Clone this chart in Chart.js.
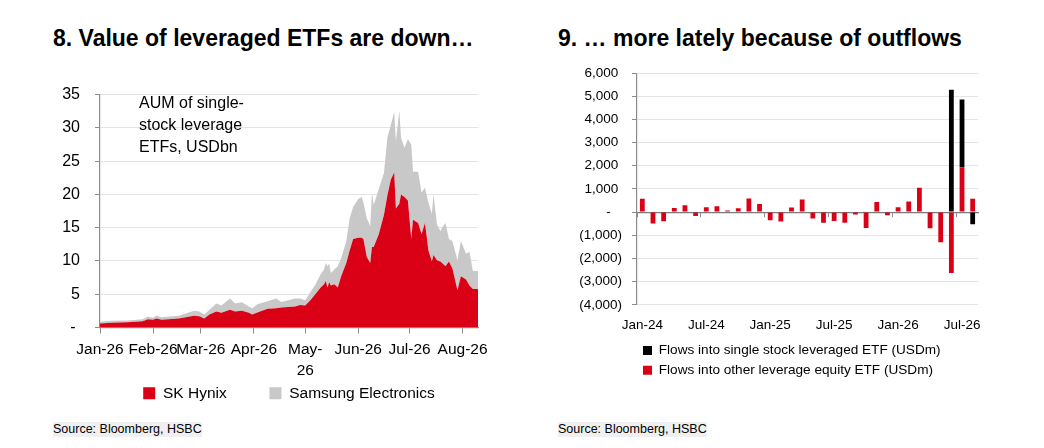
<!DOCTYPE html>
<html>
<head>
<meta charset="utf-8">
<script src="https://cdn.jsdelivr.net/npm/chart.js@4.4.1/dist/chart.umd.min.js"></script>
<style>
  html, body { margin: 0; padding: 0; background: #fff; }
  body { width: 1044px; height: 448px; position: relative; overflow: hidden;
         font-family: 'Liberation Sans', Arial, sans-serif; color: #000; }
  .title { position: absolute; top: 25px; font-weight: bold; font-size: 23px; line-height: 26px; white-space: nowrap; }
  .source { position: absolute; top: 422px; font-size: 12.5px; line-height: 15px; background: #f0f0f0; white-space: nowrap; }
  .note { position: absolute; left: 139px; top: 92px; font-size: 16px; line-height: 22px; white-space: nowrap; }
  .box { position: absolute; }
</style>
</head>
<body>
<div class="title" style="left:53px">8. Value of leveraged ETFs are down…</div>
<div class="title" style="left:558px">9. … more lately because of outflows</div>

<div class="box" style="left:50px;top:70px;width:491px;height:341px"><canvas id="aumChart"></canvas></div>
<div class="box" style="left:560px;top:55px;width:450px;height:332px"><canvas id="flowChart"></canvas></div>

<div class="note">AUM of single-<br>stock leverage<br>ETFs, USDbn</div>
<div class="source" style="left:53px">Source: Bloomberg, HSBC</div>
<div class="source" style="left:558px">Source: Bloomberg, HSBC</div>

<script>
// ---- chart 8: AUM of single-stock leverage ETFs, USDbn (x = days since 1 Jan 2026)
const aumDays = [0, 7, 16, 25, 28, 31, 33, 36, 46, 55, 58, 61, 64, 68, 71, 76, 79, 83, 87, 89,
  92, 98, 103, 106, 114, 117, 120, 123, 126, 129, 131, 132, 133, 134, 135, 137, 139, 141, 144, 146,
  148, 151, 153, 154, 156, 158, 159, 160, 163, 166, 168, 170, 172, 173, 175, 176, 178, 180, 182, 183,
  186, 188, 190, 192, 194, 195, 197, 199, 200, 202, 204, 206, 209, 211, 214, 216, 218, 221];
const hynixAum = [0.6, 0.7, 0.8, 0.95, 1.25, 1.15, 1.35, 1.15, 1.35, 1.75, 1.7, 1.35, 1.95, 2.4, 2.2, 2.65, 2.4, 2.5, 2.2, 1.95,
  2.25, 2.8, 2.9, 3.0, 3.15, 3.4, 3.3, 4.1, 5.05, 6.0, 6.5, 7.0, 6.0, 6.8, 6.3, 6.5, 6.0, 7.7, 9.7, 11.6,
  13.3, 13.5, 13.5, 13.3, 10.6, 9.7, 12.1, 12.1, 14.0, 16.9, 19.8, 22.2, 23.3, 17.9, 18.6, 20.0, 19.6, 19.1, 13.3, 16.2,
  15.7, 14.0, 15.7, 11.6, 9.9, 10.9, 10.1, 9.9, 9.7, 9.2, 9.9, 8.9, 5.6, 7.7, 7.2, 6.3, 5.8, 5.8];
const samsungAum = [0.25, 0.3, 0.25, 0.3, 0.4, 0.3, 0.45, 0.4, 0.4, 0.75, 0.7, 0.6, 0.7, 1.2, 1.1, 1.7, 1.2, 1.3, 0.95, 0.95,
  1.25, 1.15, 1.45, 0.85, 1.2, 0.95, 0.8, 1.2, 1.45, 2.0, 2.2, 2.7, 3.2, 2.8, 1.9, 2.2, 3.2, 2.7, 3.3, 4.8,
  4.8, 5.8, 6.1, 5.5, 5.8, 5.5, 8.2, 6.3, 6.8, 6.3, 8.7, 8.2, 9.1, 10.1, 14.0, 8.5, 7.4, 9.2, 14.2, 7.2,
  7.7, 6.3, 5.3, 7.2, 7.2, 9.1, 5.4, 4.6, 5.3, 6.5, 3.4, 4.1, 4.5, 5.3, 3.9, 5.1, 2.7, 2.7];
const monthStarts = [0, 31, 59, 90, 120, 151, 181, 212];
const monthLabels = ['Jan-26', 'Feb-26', 'Mar-26', 'Apr-26', ['May-', '26'], 'Jun-26', 'Jul-26', 'Aug-26'];

// ---- chart 9: monthly flows, USDm
const flowMonths = ['Jan-24', 'Feb-24', 'Mar-24', 'Apr-24', 'May-24', 'Jun-24', 'Jul-24', 'Aug-24',
  'Sep-24', 'Oct-24', 'Nov-24', 'Dec-24', 'Jan-25', 'Feb-25', 'Mar-25', 'Apr-25', 'May-25', 'Jun-25',
  'Jul-25', 'Aug-25', 'Sep-25', 'Oct-25', 'Nov-25', 'Dec-25', 'Jan-26', 'Feb-26', 'Mar-26', 'Apr-26',
  'May-26', 'Jun-26', 'Jul-26', 'Aug-26'];
const otherFlows = [580, -490, -390, 180, 300, -170, 210, 250, 70, 170, 590, 350, -350, -410, 200, 550,
  -280, -460, -380, -460, -100, -680, 440, -140, 210, 460, 1050, -700, -1300, -2630, 1940, 580];
const singleStockFlows = [0, 0, 0, 0, 0, 0, 0, 0, 0, 0, 0, 0, 0, 0, 0, 0,
  0, 0, 0, 0, 0, 0, 0, 0, 0, 0, 0, 0, 0, 5280, 2920, -520];

const RED = '#da0016';
const GREY = '#c8c8c8';
const AXIS = '#8c8c8c';
const GRID = '#e4e4e4';

Chart.defaults.font.family = "'Liberation Sans', Arial, sans-serif";
Chart.defaults.color = '#000';

const fmtFlow = v => {
  if (v === 0) return '-   ';
  const s = Math.abs(v).toLocaleString('en-US');
  return v < 0 ? '(' + s + ')' : s + ' ';
};

// legend gap between the two AUM items is wider than Chart.js gives, pad the first label
const aumLegendLabels = chart =>
  Chart.defaults.plugins.legend.labels.generateLabels(chart)
    .map((item, i) => (i === 0 ? { ...item, text: item.text + '\u00a0'.repeat(9) } : item));

new Chart(document.getElementById('aumChart'), {
  type: 'line',
  data: {
    datasets: [
      {
        label: 'SK Hynix',
        data: hynixAum.map((v, i) => ({ x: aumDays[i], y: v })),
        backgroundColor: RED,
        borderColor: RED,
        borderWidth: 0,
        pointRadius: 0,
        fill: 'origin',
        tension: 0,
      },
      {
        label: 'Samsung Electronics',
        data: samsungAum.map((v, i) => ({ x: aumDays[i], y: v })),
        backgroundColor: GREY,
        borderColor: GREY,
        borderWidth: 0,
        pointRadius: 0,
        fill: '-1',
        tension: 0,
      },
    ],
  },
  options: {
    responsive: true,
    maintainAspectRatio: false,
    animation: false,
    layout: { padding: { top: 15, right: 63, left: 0, bottom: 0 } },
    plugins: {
      tooltip: { enabled: false },
      legend: {
        position: 'bottom',
        fullSize: false,
        labels: {
          boxWidth: 12, boxHeight: 12, padding: 4,
          font: { size: 15.5 }, color: '#000',
          generateLabels: aumLegendLabels,
        },
      },
    },
    scales: {
      x: {
        type: 'linear',
        min: 0,
        max: 221,
        afterBuildTicks: s => { s.ticks = monthStarts.map(v => ({ value: v })); },
        afterFit: s => { s.height = 54; },
        ticks: {
          autoSkip: false,
          maxRotation: 0,
          minRotation: 0,
          padding: 6,
          font: { size: 15.5, lineHeight: 1.335 },
          callback: v => monthLabels[monthStarts.indexOf(v)],
        },
        grid: { drawOnChartArea: false, tickLength: 6, tickColor: AXIS },
        border: { color: AXIS, width: 1.2 },
      },
      y: {
        stacked: true,
        min: 0,
        max: 35,
        afterFit: s => { s.width = 50; },
        ticks: {
          stepSize: 5,
          padding: 15,
          font: { size: 16 },
          callback: v => (v === 0 ? '- ' : v),
        },
        grid: { color: GRID, tickColor: AXIS, tickLength: 5 },
        border: { color: AXIS, width: 1.2 },
      },
    },
  },
});

new Chart(document.getElementById('flowChart'), {
  type: 'bar',
  data: {
    labels: flowMonths,
    datasets: [
      {
        label: 'Flows into other leverage equity ETF (USDm)',
        data: otherFlows,
        backgroundColor: RED,
        borderWidth: 0,
        categoryPercentage: 1,
        barPercentage: 0.45,
      },
      {
        label: 'Flows into single stock leveraged ETF (USDm)',
        data: singleStockFlows,
        backgroundColor: '#000',
        borderWidth: 0,
        categoryPercentage: 1,
        barPercentage: 0.45,
      },
    ],
  },
  options: {
    responsive: true,
    maintainAspectRatio: false,
    animation: false,
    layout: { padding: { top: 14, right: 32, left: 0, bottom: 0 } },
    plugins: {
      tooltip: { enabled: false },
      legend: {
        position: 'bottom',
        align: 'start',
        fullSize: false,
        reverse: true,
        labels: { boxWidth: 9, boxHeight: 9, padding: 6, font: { size: 13.6 }, color: '#000' },
      },
    },
    scales: {
      x: {
        type: 'category',
        position: { y: 0 },
        stacked: true,
        offset: true,
        ticks: { display: false },
        grid: {
          offset: true,
          drawOnChartArea: false,
          tickLength: 4,
          tickColor: ctx => (ctx.index % 6 === 0 ? AXIS : 'rgba(0,0,0,0)'),
        },
        border: { color: '#7a7a7a', width: 1.2 },
      },
      x2: {
        type: 'category',
        position: 'bottom',
        offset: true,
        afterFit: s => { s.height = 33; },
        ticks: {
          autoSkip: false,
          maxRotation: 0,
          minRotation: 0,
          padding: 12,
          font: { size: 13.5 },
          callback: (v, i) => (i % 6 === 0 ? flowMonths[i] : ''),
        },
        grid: { display: false, drawTicks: false },
        border: { display: false },
      },
      y: {
        stacked: true,
        min: -4000,
        max: 6000,
        afterFit: s => { s.width = 77; },
        ticks: { stepSize: 1000, padding: 10, font: { size: 13.5 }, callback: fmtFlow },
        grid: {
          color: ctx => (ctx.tick && ctx.tick.value === 0 ? 'rgba(0,0,0,0)' : GRID),
          tickColor: AXIS,
          tickLength: 5,
        },
        border: { color: AXIS, width: 1.2 },
      },
    },
  },
});
</script>
</body>
</html>
